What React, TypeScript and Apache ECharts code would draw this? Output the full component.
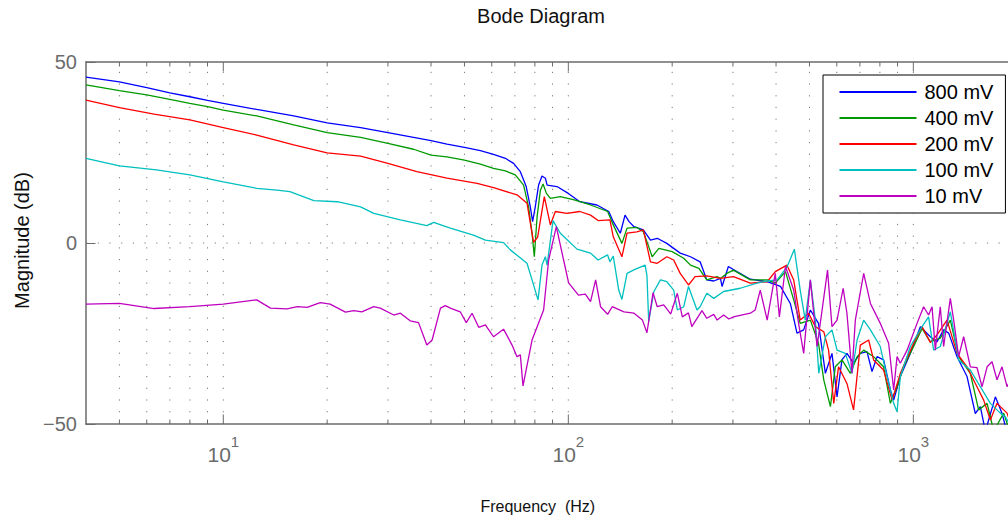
import React, { useEffect, useRef } from 'react';
import * as echarts from 'echarts';

const FONT = '"Liberation Sans", Arial, Helvetica, sans-serif';
const AXIS_GRAY = '#6b6b6b';
const GRID_GRAY = '#7a7a7a';

const seriesNames = ['800 mV', '400 mV', '200 mV', '100 mV', '10 mV'];
const seriesColors = ['#0000ff', '#009a00', '#ff0000', '#00bfbf', '#bf00bf'];

// [frequency (Hz), magnitude (dB)]
const mag800: [number, number][] = [
  [4, 45.8], [5, 44.5], [6, 42.9], [7, 41.5], [8, 40.4], [9, 39.4], [10, 38.6], [12.5, 36.9], [16, 35.1],
  [20, 33.2], [25, 31.9], [30, 30.5], [35.6, 29.2], [40, 28.3], [44.5, 27.3], [50, 26.4], [55.6, 25.5],
  [60.7, 24.5], [65.7, 23.4], [69.4, 22.0], [72.6, 19.7], [75.5, 15.6], [77.6, 10.0], [78.8, 5.9], [80.2, 10.0],
  [82.0, 16.0], [83.9, 18.5], [85.8, 17.9], [86.8, 16.0], [92.7, 15.6], [100, 13.7], [108, 11.4], [121, 10.5],
  [131, 8.7], [135, 5.9], [141.5, 2.7], [146, 7.7], [150, 5.9], [155, 4.5], [165, 3.6], [173, 0.8], [181, 1.3],
  [193, -0.1], [211, -2.8], [226, -3.8], [241, -5.2], [252, -10.2], [264, -10.5], [276, -9.8], [279, -12.0],
  [291, -6.5], [308, -7.9], [337, -10.0], [377, -10.7], [412, -12.0], [440, -16.7], [460, -24.9], [481, -24.0],
  [503, -18.5], [531, -22.2], [556, -36.0], [581, -30.5], [601, -42.5], [621, -32.3], [642, -30.5], [671, -33.2],
  [702, -30.5], [734, -30.0], [759, -35.5], [785, -31.4], [820, -32.3], [858, -40.6], [877, -43.4], [917, -36.9],
  [980, -30.5], [1048, -23.1], [1120, -25.9], [1171, -27.3], [1224, -24.0], [1266, -24.9], [1339, -31.4],
  [1431, -36.9], [1512, -47.1], [1564, -45.2], [1617, -52.0], [1729, -42.5], [1807, -47.0], [1900, -55.0], [2000, -52.0],
];

const mag400: [number, number][] = [
  [4, 43.7], [5, 42.1], [6, 40.9], [7, 39.7], [8, 38.6], [9, 37.7], [10, 36.7], [12.5, 35.1], [16, 32.6],
  [20, 30.5], [25, 29.2], [30, 27.5], [35.6, 25.9], [40, 24.3], [44.5, 23.8], [50, 22.9], [55.6, 21.8],
  [60.7, 20.6], [65.7, 19.9], [70.2, 18.8], [74.2, 16.0], [76.7, 10.0], [78.5, 2.7], [79.7, -3.8], [81.2, 7.3],
  [83.0, 14.6], [84.5, 16.3], [86.4, 13.7], [88.7, 12.3], [94.8, 12.8], [104, 11.9], [116, 10.5], [130, 8.7],
  [135, 5.0], [143, -0.1], [148, 4.1], [158, 4.3], [165, 3.1], [171, -1.0], [175, -3.8], [183, -1.5], [200, -2.4],
  [216, -4.2], [226, -6.1], [239, -7.0], [252, -10.2], [270, -9.3], [276, -9.8], [288, -8.4], [301, -7.5],
  [337, -10.2], [377, -10.2], [398, -11.1], [426, -7.9], [450, -15.7], [470, -22.2], [503, -21.3], [531, -27.7],
  [550, -37.8], [575, -45.2], [594, -34.2], [621, -32.3], [657, -36.0], [687, -31.4], [718, -29.6], [767, -31.4],
  [820, -34.2], [858, -44.3], [897, -39.7], [937, -34.2], [1002, -28.6], [1060, -23.6], [1120, -27.3],
  [1197, -26.3], [1280, -21.3], [1353, -31.4], [1463, -36.0], [1546, -46.1], [1636, -44.3], [1710, -52.0],
  [1827, -47.0], [1950, -55.0],
];

const mag200: [number, number][] = [
  [4, 39.5], [5, 37.4], [6.3, 35.6], [8, 34.0], [10, 31.9], [12.5, 29.8], [16, 27.1], [20, 24.9], [25, 24.0],
  [30, 22.0], [36.4, 19.7], [44.5, 17.9], [54.4, 16.5], [60.7, 15.3], [71, 13.3], [75.9, 11.0], [79.3, 0.2],
  [81.5, 1.6], [85.2, 12.8], [88.7, 5.0], [91.7, 8.7], [99, 8.2], [108, 8.7], [116, 7.7], [122, 6.2], [132, 6.4],
  [135, 1.7], [143, -3.8], [148, 2.7], [158, 3.1], [165, 3.6], [173, -5.2], [181, -5.6], [193, -3.8], [202, -4.7],
  [211, -8.4], [223, -11.6], [233, -9.3], [252, -9.1], [276, -9.8], [301, -9.3], [337, -11.1], [377, -10.7],
  [398, -7.9], [430, -6.1], [450, -10.2], [470, -21.3], [497, -19.4], [520, -23.1], [550, -24.5], [568, -29.6],
  [588, -44.3], [607, -34.2], [642, -38.8], [671, -46.1], [702, -28.2], [742, -26.8], [767, -32.3], [820, -35.1],
  [868, -43.4], [917, -36.0], [1002, -27.7], [1060, -23.1], [1120, -27.5], [1171, -25.4], [1252, -21.3],
  [1339, -30.5], [1431, -34.2], [1529, -39.7], [1599, -43.4], [1672, -48.9], [1748, -44.3], [1869, -47.0], [1950, -52.0],
];

const mag100: [number, number][] = [
  [4, 23.4], [5, 21.3], [6.4, 20.2], [8, 18.8], [10, 16.9], [12.5, 15.1], [14.3, 14.6], [15.6, 14.2], [18.3, 11.7],
  [21.4, 11.4], [25, 10.0], [27.3, 8.2], [32.6, 6.4], [38.9, 4.8], [40.7, 5.7], [45.5, 4.1], [53.1, 2.2],
  [57.5, 0.8], [64.9, 0.1], [67.9, -1.9], [75.9, -5.6], [78.5, -10.2], [81.7, -15.7], [83.9, -6.1], [85.8, -3.8],
  [86.8, -6.1], [90.3, 6.2], [94.8, 2.7], [106, -1.7], [116, -2.8], [122, -4.7], [130, -3.3], [132, -5.2],
  [135, -3.6], [140, -13.0], [143, -15.6], [148, -8.4], [156, -7.3], [167, -6.1], [169, -9.0], [171, -21.7],
  [177, -13.4], [185, -10.2], [193, -10.7], [202, -13.0], [207, -18.5], [216, -17.6], [223, -12.0], [236, -18.5],
  [241, -17.6], [252, -13.9], [264, -15.3], [282, -13.4], [315, -12.5], [352, -11.1], [377, -10.5], [403, -10.2],
  [431, -6.5], [452, -1.7], [470, -13.0], [486, -21.3], [503, -10.2], [520, -21.3], [532, -36.0], [556, -25.9],
  [581, -24.0], [601, -29.6], [635, -30.5], [664, -36.0], [687, -26.8], [718, -21.3], [751, -24.0], [802, -28.6],
  [839, -36.9], [877, -44.3], [897, -46.6], [917, -36.9], [980, -28.6], [1060, -23.1], [1107, -20.4],
  [1145, -29.6], [1197, -28.6], [1280, -19.0], [1353, -32.3], [1463, -35.1], [1564, -39.7], [1672, -44.3],
  [1787, -47.0], [1848, -48.0], [1950, -52.0],
];

const mag10: [number, number][] = [
  [4, -16.9], [5, -16.7], [6.3, -18.1], [8, -17.6], [10, -16.9], [12.5, -15.7], [13.7, -18.0], [15.3, -18.2],
  [16.4, -17.6], [17.5, -17.8], [19.1, -16.5], [20.4, -16.9], [22.6, -19.1], [23.9, -18.7], [25.2, -19.0],
  [27.3, -17.6], [28.5, -18.0], [31.2, -19.9], [32.6, -19.4], [34.8, -21.5], [36.8, -22.0], [38.9, -28.2],
  [40.3, -26.8], [42.6, -18.0], [44, -17.3], [45.5, -18.0], [48.6, -19.0], [50.6, -22.0], [52.6, -19.4],
  [55, -23.3], [57.5, -22.6], [60.7, -25.9], [64.9, -23.8], [68.7, -28.2], [71, -31.4], [72.6, -30.9],
  [73.9, -39.5], [78.5, -26.8], [84.8, -18.5], [87.7, -4.7], [92.3, 4.5], [96.9, -4.7], [100.2, -11.0],
  [107, -14.4], [112, -14.1], [116, -16.2], [120, -10.2], [124, -17.6], [130, -19.7], [134, -17.6], [145, -19.0],
  [155, -19.4], [164, -21.3], [169, -24.8], [176, -13.7], [181, -17.6], [189, -17.1], [198, -19.6], [207, -13.9],
  [214, -20.4], [223, -19.3], [228, -23.1], [244, -18.7], [252, -20.8], [264, -19.7], [270, -21.3], [282, -19.9],
  [292, -21.0], [301, -20.4], [337, -19.4], [348, -18.5], [360, -13.0], [377, -21.3], [398, -8.4], [409, -20.4],
  [426, -6.5], [450, -13.0], [465, -22.2], [481, -30.5], [503, -10.2], [526, -28.6], [544, -18.5], [564, -7.5],
  [581, -23.1], [601, -21.3], [626, -12.5], [642, -19.4], [664, -36.0], [679, -21.3], [718, -8.4], [751, -16.7],
  [802, -22.2], [848, -27.7], [877, -40.6], [897, -31.4], [917, -33.2], [959, -29.6], [1025, -22.2], [1071, -17.6],
  [1107, -19.9], [1133, -17.6], [1158, -29.6], [1197, -17.6], [1224, -28.6], [1280, -15.3], [1309, -21.3],
  [1353, -31.4], [1399, -25.9], [1463, -34.2], [1529, -34.4], [1582, -39.7], [1636, -34.2], [1691, -32.8],
  [1748, -37.8], [1807, -34.2], [1869, -39.7], [1950, -36.0],
];

const seriesData = [mag800, mag400, mag200, mag100, mag10];

const xDecades = [10, 100, 1000];
const xMinor = [5, 6, 7, 8, 9, 20, 30, 40, 50, 60, 70, 80, 90, 200, 300, 400, 500, 600, 700, 800, 900];
const xMin = 4;
const xMax = 2000;
const yMin = -50;
const yMax = 50;
const yStep = 50;
const yGridLevels = [0];

export default function App() {
  const ref = useRef<HTMLDivElement>(null);
  useEffect(() => {
    const chart = echarts.init(ref.current as HTMLDivElement, undefined, { renderer: 'svg' });
    // kind: 0 = minor x grid, 1 = decade x grid, 2 = horizontal y grid
    const gridLinesData = [
      ...xMinor.map((f) => [f, 0, 0]),
      ...xDecades.map((f) => [f, 1, 0]),
      ...yGridLevels.map((v) => [xMin, 2, v]),
    ];
    const lineSeries = seriesNames.map((name, i) => ({
      name,
      type: 'line',
      data: seriesData[i],
      showSymbol: false,
      symbol: 'none',
      clip: true,
      z: 3,
      lineStyle: { color: seriesColors[i], width: 1.3 },
      itemStyle: { color: seriesColors[i] },
      emphasis: { disabled: true },
    }));
    chart.setOption({
      animation: false,
      backgroundColor: '#ffffff',
      textStyle: { fontFamily: FONT },
      grid: { left: 86, top: 62, right: 22.8, bottom: 95, containLabel: false },
      xAxis: [
        {
          type: 'log',
          logBase: 10,
          min: xMin,
          max: xMax,
          position: 'bottom',
          axisLine: { show: true, onZero: false, lineStyle: { color: AXIS_GRAY, width: 1.5 } },
          axisTick: { show: false },
          splitLine: { show: false },
          axisLabel: {
            show: true,
            margin: 10,
            showMinLabel: false,
            showMaxLabel: false,
            formatter: (v: number) => {
              const e = Math.log10(v);
              const r = Math.round(e);
              if (Math.abs(e - r) < 1e-6 && r >= 1) return `{b|10}{s|${r}}`;
              return '';
            },
            rich: {
              b: { fontSize: 21, lineHeight: 41, fontFamily: FONT, color: AXIS_GRAY },
              s: { fontSize: 15, lineHeight: 15, fontFamily: FONT, color: AXIS_GRAY, verticalAlign: 'top' },
            },
          },
        },
        {
          type: 'log',
          logBase: 10,
          min: xMin,
          max: xMax,
          position: 'top',
          axisLine: { show: true, onZero: false, lineStyle: { color: AXIS_GRAY, width: 1.5 } },
          axisTick: { show: false },
          axisLabel: { show: false },
          splitLine: { show: false },
        },
      ],
      yAxis: {
        type: 'value',
        min: yMin,
        max: yMax,
        interval: yStep,
        axisLine: { show: true, onZero: false, lineStyle: { color: AXIS_GRAY, width: 1.5 } },
        axisTick: { show: true, inside: true, length: 9.5, lineStyle: { color: AXIS_GRAY, width: 1 } },
        axisLabel: {
          margin: 9,
          fontSize: 20,
          fontFamily: FONT,
          color: AXIS_GRAY,
          formatter: (v: number) => (v < 0 ? '\u2212' + Math.abs(v) : String(v)),
        },
        splitLine: { show: false },
      },
      legend: {
        data: seriesNames,
        orient: 'vertical',
        left: 823,
        top: 75,
        itemWidth: 77,
        itemHeight: 20,
        itemGap: 6,
        padding: [7, 12, 7, 15.5],
        borderColor: '#000000',
        borderWidth: 1,
        backgroundColor: '#ffffff',
        selectedMode: false,
        itemStyle: { opacity: 0, color: 'transparent', borderWidth: 0 },
        textStyle: { fontSize: 20, color: '#000000', fontFamily: FONT, padding: [0, 0, 0, 3] },
      },
      graphic: [
        {
          type: 'text',
          x: 541,
          y: 15.8,
          style: {
            text: 'Bode Diagram', fontSize: 20, fontFamily: FONT, fill: '#111111',
            textAlign: 'center', textVerticalAlign: 'middle', align: 'center', verticalAlign: 'middle',
          },
        },
        {
          type: 'text',
          x: 537.8,
          y: 506.8,
          style: {
            text: 'Frequency  (Hz)', fontSize: 16, fontFamily: FONT, fill: '#111111',
            textAlign: 'center', textVerticalAlign: 'middle', align: 'center', verticalAlign: 'middle',
          },
        },
        {
          type: 'text',
          x: 21.6,
          y: 240.5,
          rotation: Math.PI / 2,
          style: {
            text: 'Magnitude (dB)', fontSize: 20, fontFamily: FONT, fill: '#111111',
            textAlign: 'center', textVerticalAlign: 'middle', align: 'center', verticalAlign: 'middle',
          },
        },
      ],
      series: [
        {
          type: 'custom',
          name: 'grid',
          data: gridLinesData,
          z: 1,
          silent: true,
          clip: false,
          renderItem: (params: any, api: any) => {
            const f = api.value(0);
            const kind = api.value(1);
            if (kind === 2) {
              const lv = api.value(2);
              const a = api.coord([xMin, lv]);
              const b = api.coord([xMax, lv]);
              return {
                type: 'line',
                shape: { x1: a[0], y1: a[1], x2: b[0], y2: b[1] },
                style: { stroke: GRID_GRAY, lineWidth: 1, lineDash: [1.2, 10.5] },
              };
            }
            const top = api.coord([f, yMax]);
            const bot = api.coord([f, yMin]);
            const len = kind === 1 ? 9.5 : 4.5;
            return {
              type: 'group',
              children: [
                {
                  type: 'line',
                  shape: { x1: bot[0], y1: bot[1], x2: top[0], y2: top[1] },
                  style: { stroke: GRID_GRAY, lineWidth: 1, lineDash: [1.2, 10.5] },
                },
                {
                  type: 'line',
                  shape: { x1: bot[0], y1: bot[1], x2: bot[0], y2: bot[1] - len },
                  style: { stroke: AXIS_GRAY, lineWidth: 1 },
                },
                {
                  type: 'line',
                  shape: { x1: top[0], y1: top[1], x2: top[0], y2: top[1] + len },
                  style: { stroke: AXIS_GRAY, lineWidth: 1 },
                },
              ],
            };
          },
        },
        ...lineSeries,
      ],
    });
    return () => chart.dispose();
  }, []);
  return (
    <div style={{ position: 'fixed', left: 0, top: 0, width: 1008, height: 519, overflow: 'hidden', background: '#ffffff' }}>
      <div ref={ref} style={{ width: 1040, height: 519 }} />
    </div>
  );
}
